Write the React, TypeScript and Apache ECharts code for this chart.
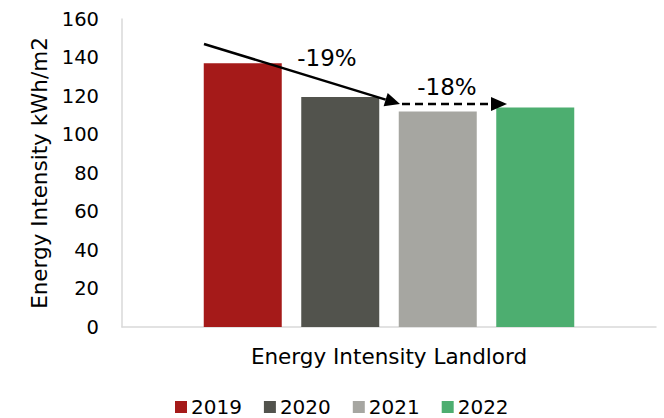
import React, { useEffect, useRef } from "react";
import * as echarts from "echarts";

const categories = ["Energy Intensity Landlord"];
const years = ["2019", "2020", "2021", "2022"];
const values = [137, 119.5, 112, 114];
const colors = ["#A51A19", "#52534D", "#A6A6A1", "#4DAE70"];
const yTicks = { min: 0, max: 160, interval: 20 };
const annotations = ["-19%", "-18%"];

const FONT = '"DejaVu Sans", Verdana, sans-serif';

export default function App() {
  const ref = useRef<HTMLDivElement>(null);
  useEffect(() => {
    if (!ref.current) return;
    const chart = echarts.init(ref.current, null, { renderer: "svg" });
    const tip1 = [400, 104];
    const start1 = [204, 44];
    const dx = tip1[0] - start1[0];
    const dy = tip1[1] - start1[1];
    const len = Math.sqrt(dx * dx + dy * dy);
    const ux = dx / len, uy = dy / len;
    const px = -uy, py = ux;
    const hl = 15, hw = 7;
    const bx = tip1[0] - hl * ux, by = tip1[1] - hl * uy;
    const textCommon = {
      fontSize: 23,
      fontFamily: FONT,
      fill: "#000",
      align: "center",
      verticalAlign: "middle",
    };
    chart.setOption({
      animation: false,
      grid: { left: 122, right: 8, top: 19, bottom: 91, containLabel: false },
      textStyle: { fontFamily: FONT },
      legend: {
        top: 392,
        left: 170,
        itemWidth: 12,
        itemHeight: 12,
        itemGap: 22,
        icon: "rect",
        textStyle: { fontFamily: FONT, fontSize: 20, lineHeight: 20, color: "#000", padding: [0, 0, 0, -1] },
        data: years,
      },
      xAxis: {
        type: "category",
        data: categories,
        axisLine: { lineStyle: { color: "#d9d9d9", width: 1.5 } },
        axisTick: { show: false },
        axisLabel: { margin: 18, fontSize: 21.5, color: "#000", fontFamily: FONT },
      },
      yAxis: {
        type: "value",
        min: yTicks.min,
        max: yTicks.max,
        interval: yTicks.interval,
        name: "Energy Intensity kWh/m2",
        nameLocation: "middle",
        nameGap: 70,
        nameTextStyle: { fontSize: 21.5, color: "#000", fontFamily: FONT },
        axisLine: { show: true, lineStyle: { color: "#d9d9d9", width: 1.5 } },
        axisTick: { show: false },
        splitLine: { show: false },
        axisLabel: { margin: 23, fontSize: 19.5, color: "#000", fontFamily: FONT },
      },
      series: years.map((y, i) => ({
        name: y,
        type: "bar",
        data: [values[i]],
        barWidth: 78,
        barGap: "25%",
        itemStyle: { color: colors[i] },
      })),
      color: colors,
      graphic: [
        {
          type: "line",
          shape: { x1: start1[0], y1: start1[1], x2: bx, y2: by },
          style: { stroke: "#000", lineWidth: 2.5 },
          z: 100,
        },
        {
          type: "polygon",
          shape: {
            points: [
              [tip1[0], tip1[1]],
              [bx + hw * px, by + hw * py],
              [bx - hw * px, by - hw * py],
            ],
          },
          style: { fill: "#000" },
          z: 100,
        },
        {
          type: "line",
          shape: { x1: 402, y1: 104, x2: 492, y2: 104 },
          style: { stroke: "#000", lineWidth: 2.5, lineDash: [8, 5] },
          z: 100,
        },
        {
          type: "polygon",
          shape: { points: [[507, 104], [491, 97], [491, 111]] },
          style: { fill: "#000" },
          z: 100,
        },
        {
          type: "text",
          x: 327,
          y: 58,
          style: { ...textCommon, text: annotations[0] },
          z: 100,
        },
        {
          type: "text",
          x: 447,
          y: 87,
          style: { ...textCommon, text: annotations[1] },
          z: 100,
        },
      ],
    });
    return () => chart.dispose();
  }, []);
  return <div ref={ref} style={{ width: 664, height: 418, position: "absolute", left: 0, top: 0, background: "#fff" }} />;
}
